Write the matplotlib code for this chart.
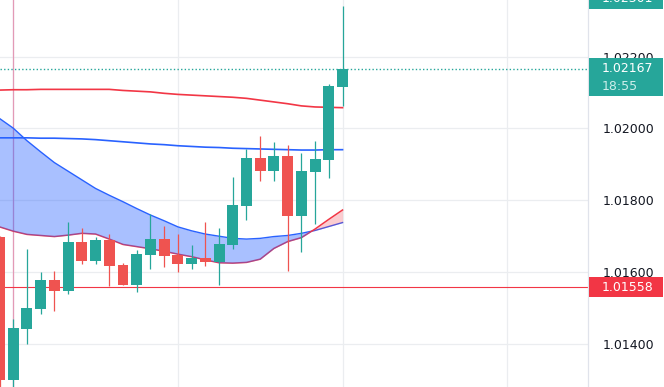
import matplotlib
matplotlib.use('Agg')
import numpy as np
import matplotlib.pyplot as plt
from matplotlib.patches import Rectangle


# ============================================================
# Data
# ============================================================

opens = [1.01699, 1.01299, 1.01442, 1.01498, 1.01579, 1.01548, 1.01685, 1.01632,
         1.01690, 1.01621, 1.01565, 1.01648, 1.01693, 1.01648, 1.01623, 1.01640,
         1.01629, 1.01676, 1.01785, 1.01918, 1.01882, 1.01923, 1.01757, 1.01880,
         1.01913, 1.02116]
highs = [1.01700, 1.01469, 1.01664, 1.01601, 1.01604, 1.01740, 1.01724, 1.01699,
         1.01707, 1.01626, 1.01662, 1.01762, 1.01729, 1.01707, 1.01676, 1.01740,
         1.01724, 1.01865, 1.01943, 1.01980, 1.01962, 1.01954, 1.01932, 1.01965,
         1.02124, 1.02341]
lows = [1.01270, 1.01270, 1.01400, 1.01484, 1.01492, 1.01540, 1.01623, 1.01623,
        1.01562, 1.01565, 1.01545, 1.01609, 1.01615, 1.01601, 1.01609, 1.01618,
        1.01565, 1.01665, 1.01746, 1.01855, 1.01855, 1.01604, 1.01657, 1.01735,
        1.01863, 1.02064]
closes = [1.01299, 1.01445, 1.01501, 1.01579, 1.01548, 1.01685, 1.01632, 1.01690,
          1.01618, 1.01565, 1.01651, 1.01693, 1.01646, 1.01623, 1.01640, 1.01629,
          1.01679, 1.01787, 1.01918, 1.01882, 1.01923, 1.01757, 1.01882, 1.01915,
          1.02118, 1.02167]

ma_red = [1.02107, 1.02108, 1.02108, 1.02109, 1.02109, 1.02109, 1.02109, 1.02109,
          1.02109, 1.02106, 1.02104, 1.02102, 1.02098, 1.02095, 1.02093, 1.02091,
          1.02089, 1.02087, 1.02084, 1.02079, 1.02074, 1.02069, 1.02063, 1.02060,
          1.02059, 1.02058]
ma_blue = [1.01974, 1.01974, 1.01974, 1.01973, 1.01973, 1.01972, 1.01971, 1.01969,
           1.01966, 1.01963, 1.01960, 1.01957, 1.01955, 1.01952, 1.01950, 1.01948,
           1.01947, 1.01945, 1.01944, 1.01943, 1.01942, 1.01941, 1.01940, 1.01940,
           1.01941, 1.01941]
band_a = [1.02028, 1.02001, 1.01966, 1.01935, 1.01905, 1.01881, 1.01857, 1.01833,
          1.01814, 1.01796, 1.01777, 1.01759, 1.01743, 1.01726, 1.01715, 1.01706,
          1.01700, 1.01694, 1.01692, 1.01694, 1.01699, 1.01702, 1.01708, 1.01716,
          1.01727, 1.01738]
band_b = [1.01726, 1.01714, 1.01705, 1.01702, 1.01699, 1.01703, 1.01708, 1.01706,
          1.01692, 1.01677, 1.01671, 1.01665, 1.01658, 1.01650, 1.01643, 1.01634,
          1.01626, 1.01625, 1.01627, 1.01636, 1.01666, 1.01685, 1.01696, 1.01720,
          1.01747, 1.01773]

price_ticks = [1.014, 1.016, 1.018, 1.020, 1.022]
vgrid_bars = [1, 13, 25, 37]
session_bar = 1
last_price = 1.02167
countdown = '18:55'
level_price = 1.01558
top_label = '1.02301'

UP = '#26a69a'
DOWN = '#ef5350'
GRID = '#ebedf0'

Y_LO, Y_HI = 1.0127994, 1.0235794
X_LO, X_HI = 0.036, 42.89
W, H = 664, 387
PANE = 588

# ============================================================
# Figure
# ============================================================

fig = plt.figure(figsize=(W / 100, H / 100), dpi=100)
ax = fig.add_axes([0, 0, PANE / W, 1])
ax.set_xlim(X_LO, X_HI)
ax.set_ylim(Y_LO, Y_HI)

x = np.arange(len(opens))
o = np.array(opens)
c = np.array(closes)
up = c >= o
cols = np.where(up, UP, DOWN)

# grid
for t in price_ticks:
    ax.axhline(t, color=GRID, lw=0.9, zorder=0)
for b in vgrid_bars:
    ax.axvline(b, color=GRID, lw=0.9, zorder=0)
ax.axvline(session_bar, color='#e39ab6', lw=0.9, zorder=0.5)

# horizontal levels
ax.axhline(last_price, color=UP, lw=1.0, ls=(0, (1, 1.6)), zorder=1)
ax.axhline(level_price, color='#f23645', lw=0.8, zorder=1)

# moving averages and band
ax.plot(x, ma_red, color='#f23645', lw=1.2, zorder=2)
ax.plot(x, band_a, color='#2962ff', lw=1.0, zorder=2)
ax.plot(x, band_b, color='#f23645', lw=1.1, zorder=2)
a = np.array(band_a)
b = np.array(band_b)
ax.fill_between(x, a, b, where=a >= b, interpolate=True,
                color='#2962ff', alpha=0.4, lw=0, zorder=3)
ax.fill_between(x, a, b, where=a <= b, interpolate=True,
                color='#f23645', alpha=0.25, lw=0, zorder=3)
ax.plot(x, ma_blue, color='#2962ff', lw=1.2, zorder=4)

# candles
ax.vlines(x, lows, highs, colors=cols, lw=0.9, zorder=5)
ax.bar(x, np.abs(c - o), bottom=np.minimum(o, c), width=0.8,
       color=cols, lw=0, zorder=6)

# price axis
for s in ['top', 'left', 'bottom']:
    ax.spines[s].set_visible(False)
ax.spines['right'].set_color('#e0e3eb')
ax.spines['right'].set_linewidth(0.9)
ax.set_xticks([])
ax.yaxis.tick_right()
ax.set_yticks(price_ticks)
ax.set_yticklabels([f'{t:.5f}' for t in price_ticks])
ax.tick_params(axis='y', length=0, pad=10.5, labelsize=9, labelcolor='#131722')

# price labels on the scale
ax2 = fig.add_axes([PANE / W, 0, (W - PANE) / W, 1])
ax2.set_xlim(0, W - PANE)
ax2.set_ylim(Y_LO, Y_HI)
ax2.axis('off')
ppx = (Y_HI - Y_LO) / H

ax2.add_patch(Rectangle((1, Y_HI - 8.5 * ppx), 74, 25 * ppx, color=UP, lw=0, clip_on=False))
ax2.text(14, Y_HI + 2 * ppx, top_label, color='white', fontsize=9, va='center', ha='left')

ax2.add_patch(Rectangle((1, last_price - 27 * ppx), 74, 38 * ppx, color=UP, lw=0))
ax2.text(14, last_price, f'{last_price:.5f}', color='white', fontsize=9, va='center', ha='left')
ax2.text(14, last_price - 17.5 * ppx, countdown, color='#cdeeea', fontsize=9,
         va='center', ha='left')

ax2.add_patch(Rectangle((1, level_price - 10 * ppx), 74, 20.5 * ppx, color='#f23645', lw=0))
ax2.text(14, level_price, f'{level_price:.5f}', color='white', fontsize=9,
         va='center', ha='left')

fig.savefig('out.png', dpi=100)
